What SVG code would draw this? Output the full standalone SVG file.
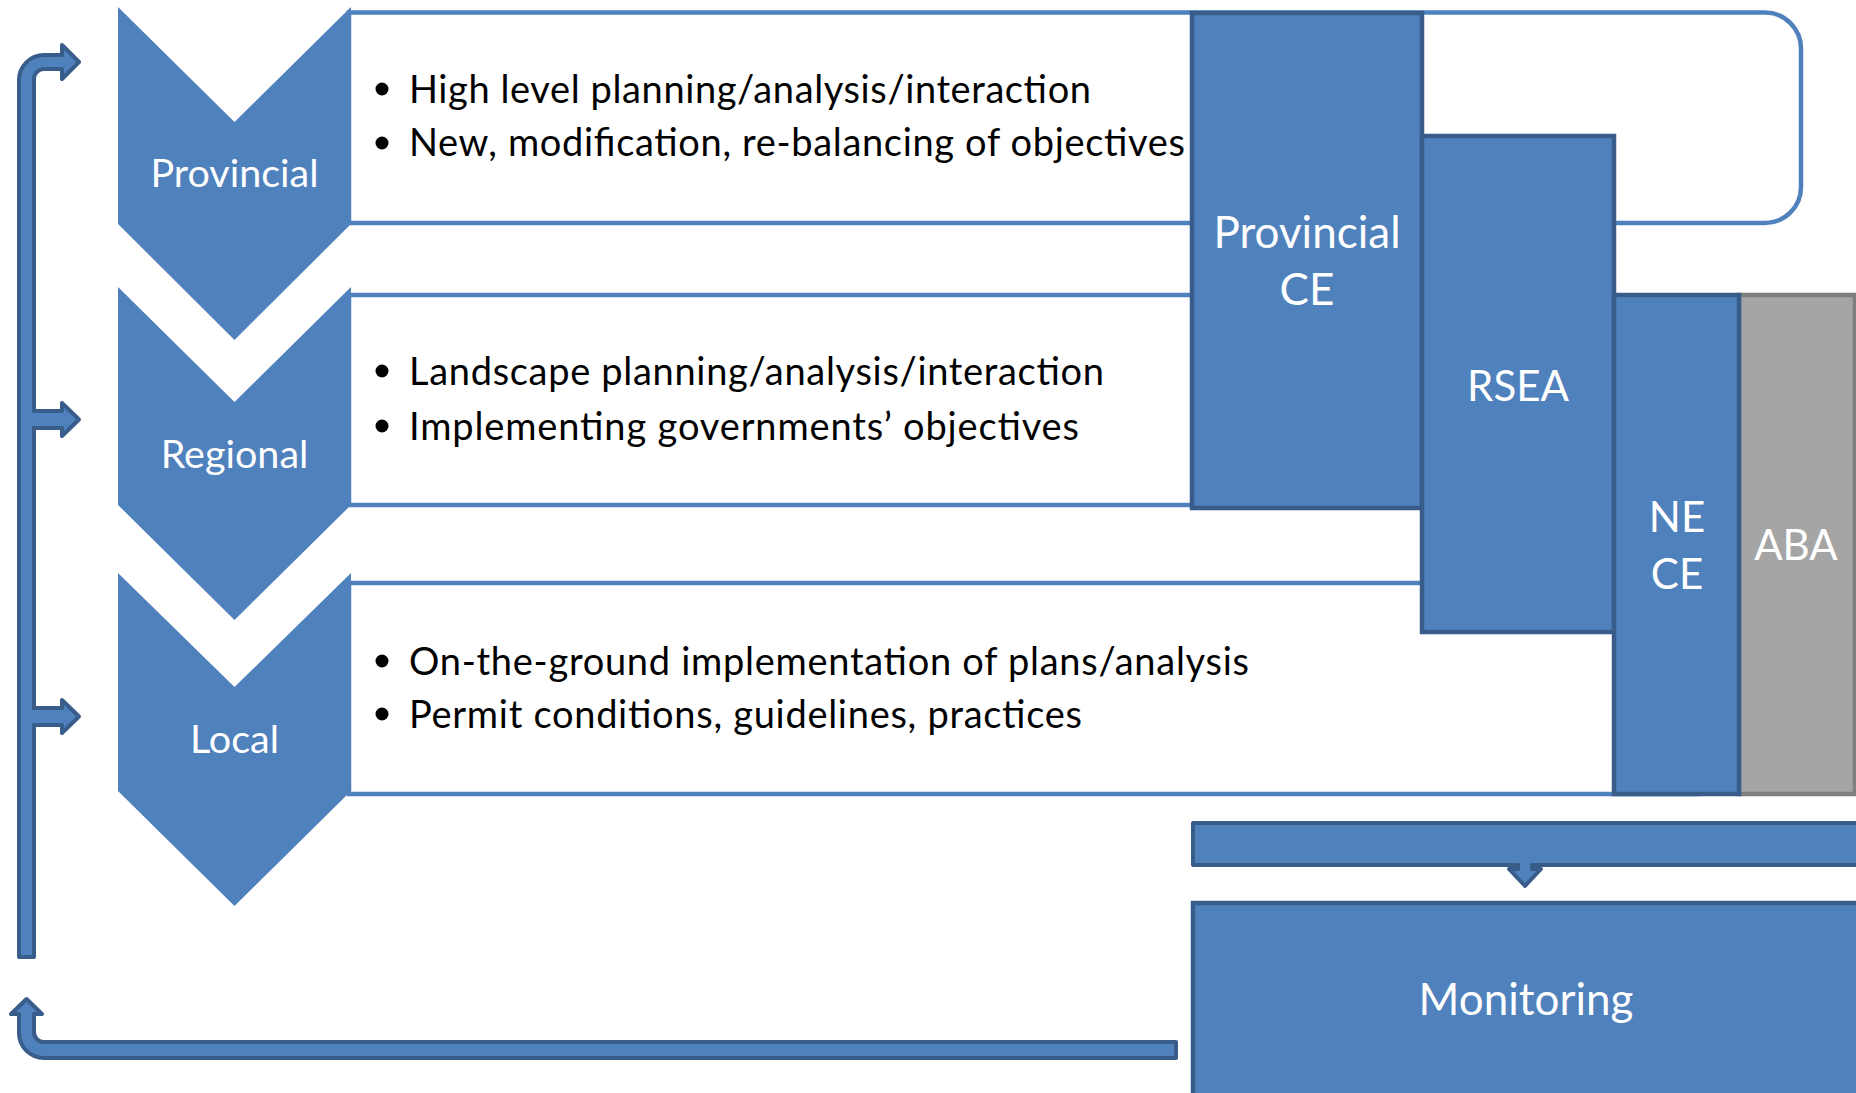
<svg xmlns="http://www.w3.org/2000/svg" width="1856" height="1093" viewBox="0 0 1856 1093">
<style>
.box{fill:#FFFFFF;stroke:#4F81BD;stroke-width:4.5}
.chev{fill:#4F81BD}
.blue{fill:#4F81BD;stroke:#385D8A;stroke-width:4.5}
.grey{fill:#A5A5A5;stroke:#7F7F7F;stroke-width:4.5}
.arr{fill:#4F81BD;stroke:#385D8A;stroke-width:4;stroke-linejoin:round}
.lbl{font-family:Lato,"Open Sans","Liberation Sans",sans-serif;fill:#FFFFFF;text-anchor:middle}
.txt{font-family:Lato,"Open Sans","Liberation Sans",sans-serif;fill:#000000;font-size:38px}
.dot{fill:#000000}
</style>
<rect x="0" y="0" width="1856" height="1093" fill="#FFFFFF"/>

<g id="provincial">
  <path class="box" d="M349 12.5 H1765 A36 36 0 0 1 1801 48.5 V187 A36 36 0 0 1 1765 223 H349 Z"/>
  <polygon class="chev" points="118,7 234.5,122 351,7 351,224 234.5,340 118,224"/>
  <text class="lbl" x="234.5" y="187" font-size="39.5">Provincial</text>
  <circle class="dot" cx="382" cy="89" r="6.5"/>
  <circle class="dot" cx="382" cy="143" r="6.5"/>
  <text class="txt" x="409" y="103" textLength="682">High level planning/analysis/interaction</text>
  <text class="txt" x="409" y="156" textLength="776">New, modification, re-balancing of objectives</text>
</g>

<g id="regional">
  <rect class="box" x="349" y="295" width="950" height="210"/>
  <polygon class="chev" points="118,287 234.5,402 351,287 351,505 234.5,620 118,505"/>
  <text class="lbl" x="234.5" y="468" font-size="39.5">Regional</text>
  <circle class="dot" cx="382" cy="371" r="6.5"/>
  <circle class="dot" cx="382" cy="426" r="6.5"/>
  <text class="txt" x="409" y="385" textLength="695">Landscape planning/analysis/interaction</text>
  <text class="txt" x="409" y="440" textLength="670">Implementing governments’ objectives</text>
</g>

<g id="local">
  <rect class="box" x="349" y="583" width="1350" height="211"/>
  <polygon class="chev" points="118,573 234.5,687 351,573 351,791 234.5,906 118,791"/>
  <text class="lbl" x="234.5" y="753" font-size="39.5">Local</text>
  <circle class="dot" cx="382" cy="661" r="6.5"/>
  <circle class="dot" cx="382" cy="714" r="6.5"/>
  <text class="txt" x="409" y="675" textLength="840">On-the-ground implementation of plans/analysis</text>
  <text class="txt" x="409" y="728" textLength="673">Permit conditions, guidelines, practices</text>
</g>

<g id="provincial-ce">
  <rect class="blue" x="1192" y="13" width="230" height="495"/>
  <text class="lbl" x="1307" y="248" font-size="44">Provincial</text>
  <text class="lbl" x="1307" y="305" font-size="44">CE</text>
</g>

<g id="rsea">
  <rect class="blue" x="1422" y="136" width="192" height="496"/>
  <text class="lbl" x="1518" y="401" font-size="42">RSEA</text>
</g>

<g id="aba">
  <rect class="grey" x="1739" y="295" width="116" height="499"/>
  <text class="lbl" x="1796" y="560" font-size="42">ABA</text>
</g>

<g id="ne-ce">
  <rect class="blue" x="1614" y="295" width="125" height="499"/>
  <text class="lbl" x="1677" y="532" font-size="42">NE</text>
  <text class="lbl" x="1677" y="589" font-size="42">CE</text>
</g>

<g id="monitoring">
  <rect class="blue" x="1193" y="903" width="680" height="220"/>
  <text class="lbl" x="1526" y="1015" font-size="44">Monitoring</text>
</g>

<g id="connectors">
  <path class="arr" d="M1193 823 H1870 V865 H1532 V869 H1541 L1525 886 L1509 869 H1518 V865 H1193 Z"/>
  <path class="arr" d="M19 957 V80 A25 25 0 0 1 44 55 H62 V45 L79 62 L62 79 V69 H44 A10 10 0 0 0 34 79 V957 Z"/>
  <path class="arr" d="M34 411 H62 V403 L79 419.5 L62 436 V428 H34 Z"/>
  <rect x="30" y="413" width="8" height="13" fill="#4F81BD"/>
  <path class="arr" d="M34 708 H62 V700 L79 716.5 L62 733 V725 H34 Z"/>
  <rect x="30" y="710" width="8" height="13" fill="#4F81BD"/>
  <path class="arr" d="M1176 1042 H44 A10 10 0 0 1 34 1032 V1014 H42 L26.5 999 L11 1014 H19 V1033 A25 25 0 0 0 44 1058 H1176 Z"/>
</g>
</svg>
